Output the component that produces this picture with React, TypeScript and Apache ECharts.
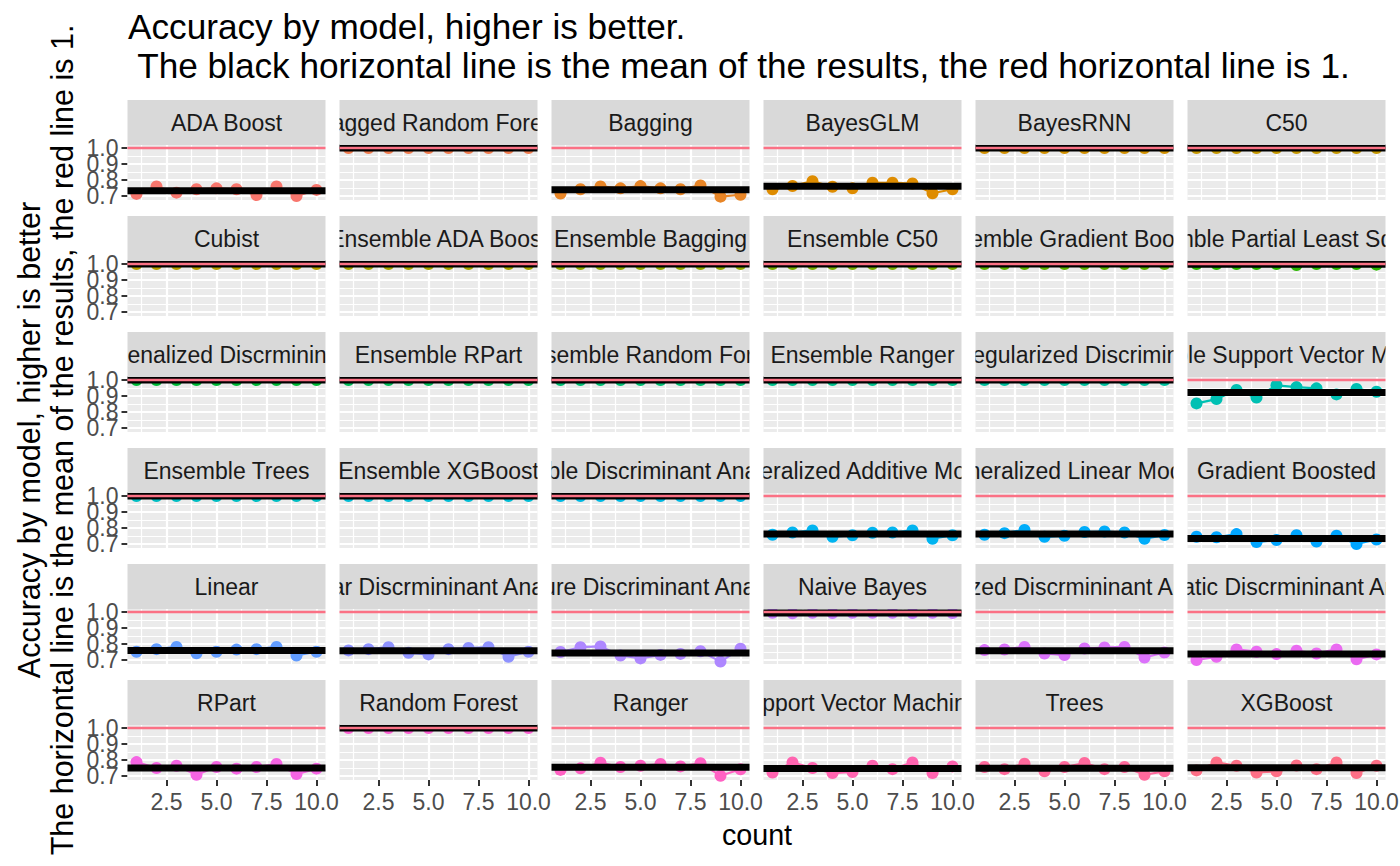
import React, { useEffect, useRef } from "react";
import * as echarts from "echarts";

// ---------------- data ----------------
const counts = [1, 2, 3, 4, 5, 6, 7, 8, 9, 10];

const modelNames = [
  "ADA Boost", "Bagged Random Forest", "Bagging", "BayesGLM", "BayesRNN", "C50",
  "Cubist", "Ensemble ADA Boost", "Ensemble Bagging", "Ensemble C50", "Ensemble Gradient Boosted", "Ensemble Partial Least Squares",
  "Ensemble Penalized Discrmininant Analysis", "Ensemble RPart", "Ensemble Random Forest", "Ensemble Ranger", "Ensemble Regularized Discriminant Analysis", "Ensemble Support Vector Machines",
  "Ensemble Trees", "Ensemble XGBoost", "Flexible Discriminant Analysis", "Generalized Additive Models", "Generalized Linear Models", "Gradient Boosted",
  "Linear", "Linear Discrmininant Analysis", "Mixture Discriminant Analysis", "Naive Bayes", "Penalized Discrmininant Analysis", "Quadratic Discrmininant Analysis",
  "RPart", "Random Forest", "Ranger", "Support Vector Machines", "Trees", "XGBoost",
];

const adaBoost = [0.713, 0.759, 0.721, 0.742, 0.748, 0.742, 0.706, 0.759, 0.7, 0.738];
const baggedRandomForest = [1, 1, 1, 1, 1, 1, 1, 1, 1, 1];
const bagging = [0.716, 0.742, 0.76, 0.748, 0.762, 0.748, 0.742, 0.766, 0.696, 0.708];
const bayesGLM = [0.742, 0.763, 0.792, 0.758, 0.748, 0.783, 0.783, 0.778, 0.717, 0.742];
const bayesRNN = [1, 1, 1, 1, 1, 1, 1, 1, 1, 1];
const c50 = [1, 1, 1, 1, 1, 1, 1, 1, 1, 1];
const cubist = [1, 1, 1, 1, 1, 1, 1, 1, 1, 1];
const ensembleAdaBoost = [1, 1, 1, 1, 1, 1, 1, 1, 1, 1];
const ensembleBagging = [1, 1, 1, 1, 1, 1, 1, 1, 1, 1];
const ensembleC50 = [1, 1, 1, 1, 1, 1, 1, 1, 1, 1];
const ensembleGradientBoosted = [1, 1, 1, 1, 1, 1, 1, 1, 1, 1];
const ensemblePartialLeastSquares = [1, 1, 1, 1, 1, 0.994, 1, 1, 1, 0.996];
const ensemblePenalizedDA = [1, 1, 1, 1, 1, 1, 1, 1, 1, 1];
const ensembleRPart = [1, 1, 1, 1, 1, 1, 1, 1, 1, 1];
const ensembleRandomForest = [1, 1, 1, 1, 1, 1, 1, 1, 1, 1];
const ensembleRanger = [1, 1, 1, 1, 1, 1, 1, 1, 1, 1];
const ensembleRegularizedDA = [1, 1, 1, 1, 1, 1, 1, 1, 1, 1];
const ensembleSVM = [0.854, 0.881, 0.938, 0.89, 0.967, 0.956, 0.948, 0.91, 0.944, 0.927];
const ensembleTrees = [1, 1, 1, 1, 1, 1, 1, 1, 1, 1];
const ensembleXGBoost = [1, 1, 1, 1, 1, 1, 1, 1, 1, 1];
const flexibleDA = [1, 1, 1, 1, 1, 1, 1, 1, 1, 1];
const generalizedAdditive = [0.758, 0.772, 0.785, 0.745, 0.755, 0.77, 0.772, 0.785, 0.733, 0.755];
const generalizedLinear = [0.758, 0.768, 0.788, 0.745, 0.752, 0.775, 0.778, 0.772, 0.733, 0.756];
const gradientBoosted = [0.745, 0.742, 0.762, 0.712, 0.725, 0.755, 0.716, 0.752, 0.7, 0.728];
const linear = [0.752, 0.768, 0.782, 0.742, 0.752, 0.765, 0.768, 0.782, 0.728, 0.752];
const linearDA = [0.76, 0.768, 0.78, 0.745, 0.735, 0.768, 0.775, 0.78, 0.72, 0.752];
const mixtureDA = [0.75, 0.78, 0.785, 0.728, 0.71, 0.732, 0.738, 0.755, 0.69, 0.77];
const naiveBayes = [0.995, 0.992, 0.995, 0.994, 0.995, 0.995, 0.995, 0.994, 0.995, 0.994];
const penalizedDA = [0.762, 0.766, 0.782, 0.741, 0.731, 0.772, 0.778, 0.782, 0.716, 0.747];
const quadraticDA = [0.7, 0.72, 0.766, 0.752, 0.737, 0.758, 0.741, 0.766, 0.704, 0.735];
const rPart = [0.787, 0.75, 0.764, 0.708, 0.756, 0.746, 0.756, 0.775, 0.712, 0.746];
const randomForest = [1, 1, 1, 1, 1, 1, 1, 1, 1, 1];
const ranger = [0.738, 0.748, 0.783, 0.756, 0.764, 0.775, 0.76, 0.78, 0.702, 0.742];
const supportVectorMachines = [0.722, 0.785, 0.75, 0.718, 0.725, 0.764, 0.743, 0.785, 0.718, 0.76];
const trees = [0.756, 0.743, 0.777, 0.729, 0.756, 0.781, 0.743, 0.756, 0.708, 0.729];
const xgBoost = [0.735, 0.785, 0.764, 0.722, 0.729, 0.766, 0.743, 0.785, 0.718, 0.764];

const accuracyByModel = [
  adaBoost, baggedRandomForest, bagging, bayesGLM, bayesRNN, c50,
  cubist, ensembleAdaBoost, ensembleBagging, ensembleC50, ensembleGradientBoosted, ensemblePartialLeastSquares,
  ensemblePenalizedDA, ensembleRPart, ensembleRandomForest, ensembleRanger, ensembleRegularizedDA, ensembleSVM,
  ensembleTrees, ensembleXGBoost, flexibleDA, generalizedAdditive, generalizedLinear, gradientBoosted,
  linear, linearDA, mixtureDA, naiveBayes, penalizedDA, quadraticDA,
  rPart, randomForest, ranger, supportVectorMachines, trees, xgBoost,
];

const xTickValues = [2.5, 5, 7.5, 10];
const xMinorValues = [1.25, 3.75, 6.25, 8.75];
const yTickValues = [0.7, 0.8, 0.9, 1.0];
const yMinorValues = [0.75, 0.85, 0.95];
const referenceValue = 1;

const titleLine1 = "Accuracy by model, higher is better.";
const titleLine2 = " The black horizontal line is the mean of the results, the red horizontal line is 1.";
const yTitle1 = "Accuracy by model, higher is better";
const yTitle2 = "The horizontal line is the mean of the results, the red line is 1.";
const xTitle = "count";

// ---------------- style / layout ----------------
const FONT = "'Liberation Sans', Arial, Helvetica, sans-serif";
const X_MIN = 0.55;
const X_MAX = 10.45;
const Y_MIN = 0.675;
const Y_MAX = 1.019;
const COL_LEFT0 = 127.5;
const COL_STEP = 212;
const PANEL_W = 198;
const STRIP_TOP0 = 100;
const ROW_STEP = 116;
const STRIP_H = 45;
const PANEL_H = 55;
const NCOL = 6;

function hueColor(h: number): string {
  const L = 65, C = 100;
  const WX = 95.047, WY = 100.0, WZ = 108.883;
  const denom = WX + 15 * WY + 3 * WZ;
  const un = (4 * WX) / denom, vn = (9 * WY) / denom;
  const hr = (h * Math.PI) / 180;
  const U = C * Math.cos(hr), V = C * Math.sin(hr);
  const Y = WY * Math.pow((L + 16) / 116, 3);
  const u = U / (13 * L) + un;
  const v = V / (13 * L) + vn;
  const X = (9 * Y * u) / (4 * v);
  const Z = -X / 3 - 5 * Y + (3 * Y) / v;
  const g = (t: number) => {
    const s = t <= 0.0031308 ? 12.92 * t : 1.055 * Math.pow(t, 1 / 2.4) - 0.055;
    return Math.round(255 * Math.min(1, Math.max(0, s)));
  };
  const r = g((3.240479 * X - 1.53715 * Y - 0.498535 * Z) / WY);
  const gg = g((-0.969256 * X + 1.875992 * Y + 0.041556 * Z) / WY);
  const b = g((0.055648 * X - 0.204043 * Y + 1.057311 * Z) / WY);
  const hx = (n: number) => n.toString(16).padStart(2, "0");
  return "#" + hx(r) + hx(gg) + hx(b);
}

const tickLabelStyle = {
  color: "#4D4D4D", fontSize: 23, fontFamily: FONT,
  showMinLabel: true, showMaxLabel: true, hideOverlap: false,
  formatter: (v: number) => Number(v).toFixed(1),
};

function buildOption() {
  const n = modelNames.length;
  const grids: any[] = [];
  const xAxes: any[] = [];
  const yAxes: any[] = [];
  const extraYAxes: any[] = [];
  const series: any[] = [];
  const graphics: any[] = [];

  for (let i = 0; i < n; i++) {
    const r = Math.floor(i / NCOL);
    const c = i % NCOL;
    const left = COL_LEFT0 + c * COL_STEP;
    const stripTop = STRIP_TOP0 + r * ROW_STEP;
    const top = stripTop + STRIP_H;
    const color = hueColor(15 + (360 / n) * i);
    const vals = accuracyByModel[i];
    const mean = vals.reduce((a, b) => a + b, 0) / vals.length;
    const isBottom = r === Math.ceil(n / NCOL) - 1;
    const isLeft = c === 0;

    grids.push({
      left, top, width: PANEL_W, height: PANEL_H,
      show: true, backgroundColor: "#EBEBEB", borderWidth: 0,
      outerBoundsMode: "none", containLabel: false,
    });
    xAxes.push({
      gridIndex: i, type: "value", min: X_MIN, max: X_MAX,
      axisLine: { show: false },
      splitLine: { show: false },
      axisTick: { show: isBottom, customValues: xTickValues, length: 6, lineStyle: { color: "#333333", width: 2 } },
      axisLabel: { show: isBottom, customValues: xTickValues, margin: 10, ...tickLabelStyle },
    });
    // one label per y axis so that the tightly spaced labels are all drawn (they overlap, as in the original)
    yAxes.push({
      gridIndex: i, type: "value", position: "left", offset: 0, min: Y_MIN, max: Y_MAX,
      axisLine: { show: false },
      splitLine: { show: false },
      axisTick: { show: isLeft, customValues: yTickValues, length: 6, lineStyle: { color: "#333333", width: 2 } },
      axisLabel: { show: isLeft, customValues: [yTickValues[0]], margin: 9, ...tickLabelStyle },
    });
    if (isLeft) {
      for (let k = 1; k < yTickValues.length; k++) {
        extraYAxes.push({
          gridIndex: i, type: "value", position: "left", offset: 0, min: Y_MIN, max: Y_MAX,
          axisLine: { show: false },
          splitLine: { show: false },
          axisTick: { show: false },
          axisLabel: { show: true, customValues: [yTickValues[k]], margin: 9, ...tickLabelStyle },
        });
      }
    }

    const gridLines: any[] = [];
    xMinorValues.forEach((v) => gridLines.push({ xAxis: v, lineStyle: { color: "#FFFFFF", width: 1.2, type: "solid" } }));
    xTickValues.forEach((v) => gridLines.push({ xAxis: v, lineStyle: { color: "#FFFFFF", width: 2.2, type: "solid" } }));
    yMinorValues.forEach((v) => gridLines.push({ yAxis: v, lineStyle: { color: "#FFFFFF", width: 1.2, type: "solid" } }));
    yTickValues.forEach((v) => gridLines.push({ yAxis: v, lineStyle: { color: "#FFFFFF", width: 2.2, type: "solid" } }));

    series.push({
      type: "line", xAxisIndex: i, yAxisIndex: i, data: [], silent: true, z: 1,
      markLine: {
        silent: true, symbol: ["none", "none"], label: { show: false },
        emphasis: { disabled: true }, animation: false, z: 1,
        data: gridLines,
      },
    });
    series.push({
      type: "line", xAxisIndex: i, yAxisIndex: i, z: 10, silent: true, clip: true,
      data: counts.map((x, j) => [x, vals[j]]),
      symbol: "circle", symbolSize: 12, showSymbol: true, showAllSymbol: true,
      lineStyle: { color, width: 2.2 }, itemStyle: { color },
    });
    series.push({
      type: "line", xAxisIndex: i, yAxisIndex: i, z: 11, silent: true,
      data: [[X_MIN, mean], [X_MAX, mean]], symbol: "none",
      lineStyle: { color: "#000000", width: 7, cap: "butt" },
    });
    series.push({
      type: "line", xAxisIndex: i, yAxisIndex: i, z: 12, silent: true,
      data: [[X_MIN, referenceValue], [X_MAX, referenceValue]], symbol: "none",
      lineStyle: { color: "#FB7185", width: 2.4, cap: "butt" },
    });

    graphics.push({
      type: "rect", z: 100, silent: true,
      shape: { x: left, y: stripTop, width: PANEL_W, height: STRIP_H },
      style: { fill: "#D9D9D9" },
    });
    graphics.push({
      type: "text", z: 101, silent: true,
      style: {
        x: left + PANEL_W / 2, y: stripTop + STRIP_H / 2 + 0.5,
        text: modelNames[i], fill: "#1A1A1A", fontSize: 23, fontFamily: FONT,
        textAlign: "center", textVerticalAlign: "middle",
      },
      clipPath: { type: "rect", shape: { x: left, y: stripTop, width: PANEL_W, height: STRIP_H } },
    });
  }

  graphics.push({
    type: "text", z: 50, silent: true,
    style: { x: 128, y: 26.5, text: titleLine1, fill: "#000000", fontSize: 35.2, fontFamily: FONT, textAlign: "left", textVerticalAlign: "middle" },
  });
  graphics.push({
    type: "text", z: 50, silent: true,
    style: { x: 128, y: 65, text: titleLine2, fill: "#000000", fontSize: 35.2, fontFamily: FONT, textAlign: "left", textVerticalAlign: "middle" },
  });
  graphics.push({
    type: "text", z: 50, silent: true, x: 29, y: 440, rotation: Math.PI / 2,
    style: { x: 0, y: 0, text: yTitle1, fill: "#000000", fontSize: 30.5, fontFamily: FONT, textAlign: "center", textVerticalAlign: "middle" },
  });
  graphics.push({
    type: "text", z: 50, silent: true, x: 62, y: 440, rotation: Math.PI / 2,
    style: { x: 0, y: 0, text: yTitle2, fill: "#000000", fontSize: 30.5, fontFamily: FONT, textAlign: "center", textVerticalAlign: "middle" },
  });
  graphics.push({
    type: "text", z: 50, silent: true,
    style: { x: 757, y: 835, text: xTitle, fill: "#000000", fontSize: 28.7, fontFamily: FONT, textAlign: "center", textVerticalAlign: "middle" },
  });

  return {
    animation: false,
    backgroundColor: "#FFFFFF",
    tooltip: { show: false },
    grid: grids,
    xAxis: xAxes,
    yAxis: [...yAxes, ...extraYAxes],
    series,
    graphic: { elements: graphics },
  };
}

export default function App() {
  const ref = useRef<HTMLDivElement>(null);
  useEffect(() => {
    document.body.style.margin = "0";
    document.body.style.padding = "0";
    if (!ref.current) return;
    const chart = echarts.init(ref.current, undefined, { renderer: "svg" });
    chart.setOption(buildOption() as any);
    return () => chart.dispose();
  }, []);
  return (
    <div
      ref={ref}
      style={{ position: "relative", width: 1400, height: 866, background: "#FFFFFF" }}
    />
  );
}
